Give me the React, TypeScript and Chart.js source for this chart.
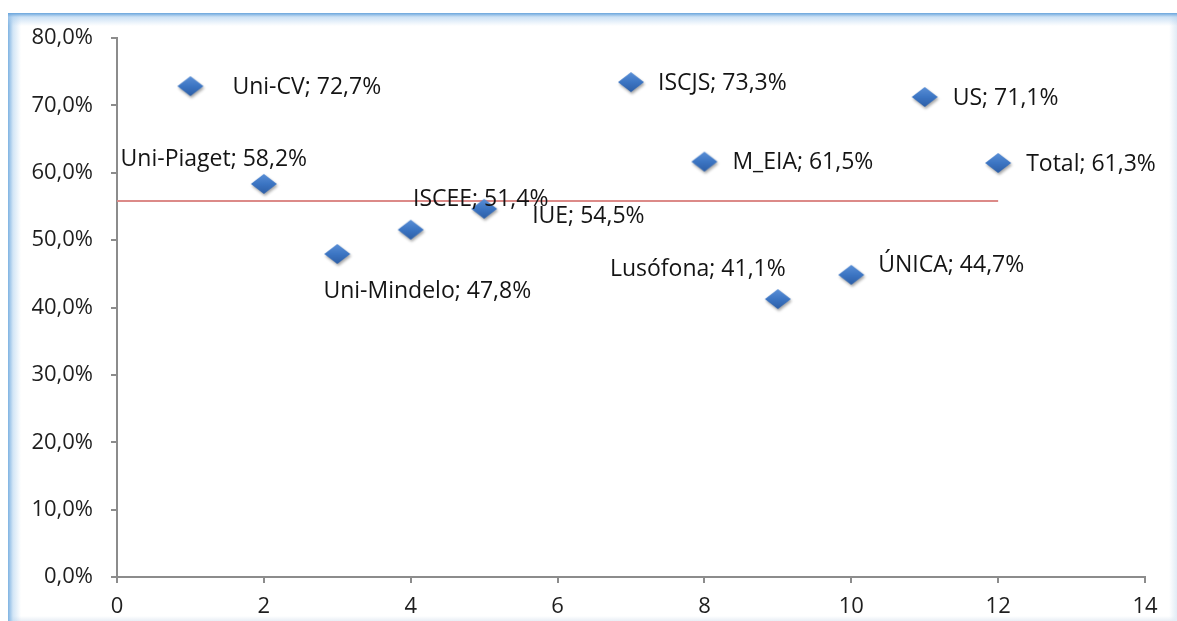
import React, { useEffect, useRef } from "react";
import { Chart, registerables } from "chart.js";

Chart.register(...registerables);

const institutions = ["Uni-CV", "Uni-Piaget", "Uni-Mindelo", "ISCEE", "IUE", "ISCJS", "M_EIA", "Lusófona", "ÚNICA", "US", "Total"];
const positions = [1, 2, 3, 4, 5, 7, 8, 9, 10, 11, 12];
const rates = [72.7, 58.2, 47.8, 51.4, 54.5, 73.3, 61.5, 41.1, 44.7, 71.1, 61.3];
const referenceX = [0, 12];
const referenceY = [55.8, 55.8];

// label placement: text alignment and offset from the marker (pixels)
const labelPlacement = [
  { align: "left", dx: 42, dy: 0 },
  { align: "center", dx: -50, dy: -25 },
  { align: "center", dx: 90, dy: 37 },
  { align: "center", dx: 70, dy: -31 },
  { align: "left", dx: 48, dy: 7 },
  { align: "left", dx: 27, dy: 0 },
  { align: "left", dx: 28, dy: 0 },
  { align: "center", dx: -80, dy: -31 },
  { align: "left", dx: 27, dy: -10 },
  { align: "left", dx: 28, dy: 0 },
  { align: "left", dx: 28, dy: 0 },
];

const FONT = '"Open Sans", sans-serif';
const fmt = (v: number) => v.toFixed(1).replace(".", ",") + "%";

function makeDiamond(): HTMLCanvasElement {
  const c = document.createElement("canvas");
  c.width = 34;
  c.height = 28;
  const ctx = c.getContext("2d")!;
  const cx = 17, cy = 13, hw = 13, hh = 10;
  ctx.shadowColor = "rgba(0,0,0,0.35)";
  ctx.shadowBlur = 3;
  ctx.shadowOffsetX = 1;
  ctx.shadowOffsetY = 2;
  const g = ctx.createLinearGradient(0, cy - hh, 0, cy + hh);
  g.addColorStop(0, "#5a8fd6");
  g.addColorStop(0.5, "#3c75c3");
  g.addColorStop(1, "#2c5ea6");
  ctx.fillStyle = g;
  ctx.beginPath();
  ctx.moveTo(cx, cy - hh);
  ctx.lineTo(cx + hw, cy);
  ctx.lineTo(cx, cy + hh);
  ctx.lineTo(cx - hw, cy);
  ctx.closePath();
  ctx.fill();
  return c;
}

const labelPlugin = {
  id: "pointLabels",
  afterDatasetsDraw(chart: any) {
    const meta = chart.getDatasetMeta(0);
    const ctx = chart.ctx;
    ctx.save();
    ctx.font = `23px ${FONT}`;
    ctx.fillStyle = "#141414";
    ctx.textBaseline = "middle";
    meta.data.forEach((el: any, i: number) => {
      const p = labelPlacement[i];
      ctx.textAlign = p.align;
      ctx.fillText(`${institutions[i]}; ${fmt(rates[i])}`, el.x + p.dx, el.y + p.dy);
    });
    ctx.restore();
  },
};

export default function App() {
  const ref = useRef<HTMLCanvasElement>(null);
  useEffect(() => {
    if (!ref.current) return;
    const diamond = makeDiamond();
    const chart = new Chart(ref.current, {
      type: "scatter",
      data: {
        datasets: [
          {
            label: "Taxa",
            data: positions.map((x, i) => ({ x, y: rates[i] })),
            pointStyle: diamond as any,
            pointRadius: 13,
            showLine: false,
          },
          {
            label: "Média",
            type: "line",
            data: referenceX.map((x, i) => ({ x, y: referenceY[i] })),
            borderColor: "#dc8a88",
            borderWidth: 2,
            pointRadius: 0,
            showLine: true,
            fill: false,
          } as any,
        ],
      },
      options: {
        responsive: false,
        animation: false,
        layout: { padding: { top: 25, right: 32, bottom: 0, left: 0 } },
        plugins: { legend: { display: false }, tooltip: { enabled: false } },
        scales: {
          x: {
            type: "linear",
            min: 0,
            max: 14,
            afterFit: (s: any) => { s.height = 44; s.paddingLeft = 0; s.paddingRight = 0; },
            ticks: { stepSize: 2, color: "#1e1e1e", font: { family: FONT, size: 22 }, padding: 11 },
            grid: { drawOnChartArea: false, drawTicks: true, tickLength: 6, color: "#8c8c8c", lineWidth: 2 },
            border: { color: "#8c8c8c", width: 2 },
          },
          y: {
            min: 0,
            max: 80,
            afterFit: (s: any) => { s.width = 109; s.paddingTop = 0; s.paddingBottom = 0; },
            ticks: { stepSize: 10, color: "#1e1e1e", font: { family: FONT, size: 22 }, padding: 18, callback: (v: any) => fmt(Number(v)) },
            grid: { drawOnChartArea: false, drawTicks: true, tickLength: 6, color: "#8c8c8c", lineWidth: 2 },
            border: { color: "#8c8c8c", width: 2 },
          },
        },
      },
      plugins: [labelPlugin],
    });
    return () => chart.destroy();
  }, []);

  return (
    <div
      style={{
        position: "absolute",
        left: 8,
        top: 13,
        width: 1169,
        height: 608,
        backgroundColor: "#ffffff",
        backgroundImage: [
          "linear-gradient(to bottom, #6aa5dc 0px, rgba(170,205,238,0.6) 4px, rgba(255,255,255,0) 13px)",
          "linear-gradient(to right, #7fb3e2 0px, rgba(180,212,240,0.6) 5px, rgba(255,255,255,0) 13px)",
          "linear-gradient(to left, rgba(225,236,246,1) 0px, rgba(255,255,255,0) 8px)",
          "linear-gradient(to top, rgba(232,238,245,1) 0px, rgba(255,255,255,0) 5px)",
        ].join(","),
      }}
    >
      <canvas ref={ref} width={1169} height={608} style={{ position: "absolute", left: 0, top: 0 }} />
    </div>
  );
}
